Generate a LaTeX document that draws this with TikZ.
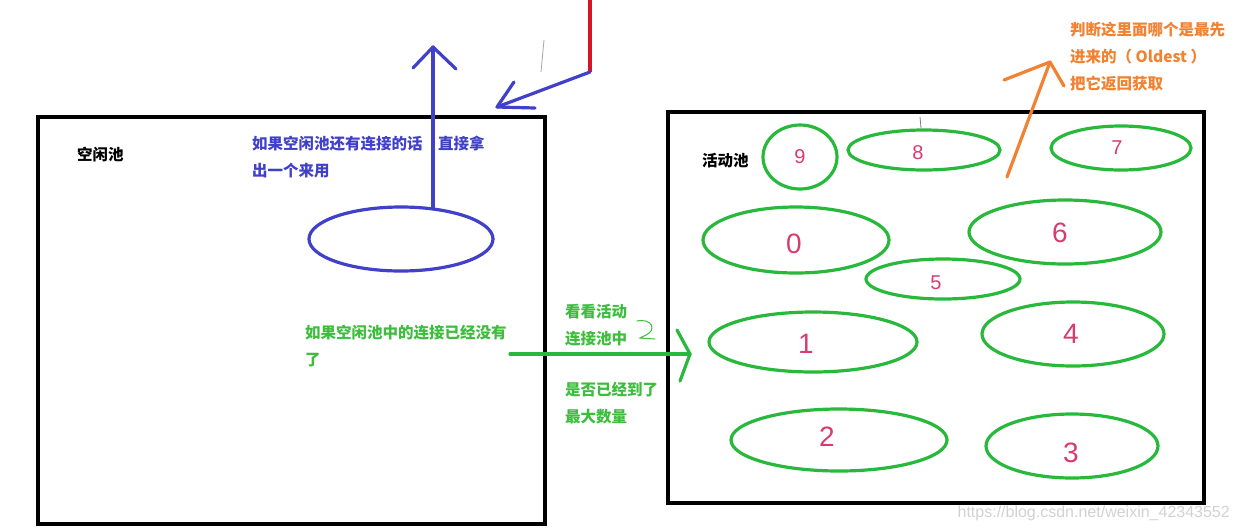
\documentclass[tikz,border=0pt]{standalone}
\usepackage{fontspec}
\setmainfont{Liberation Sans}
\newfontfamily\cjk{Noto Sans CJK SC}
\definecolor{penblue}{RGB}{64,64,200}
\definecolor{pengreen}{RGB}{40,185,60}
\definecolor{txtgreen}{RGB}{60,190,60}
\definecolor{penorange}{RGB}{240,130,50}
\definecolor{penred}{RGB}{215,20,40}
\definecolor{digit}{RGB}{215,60,110}
\tikzset{
  poolbox/.style={draw=black, line width=3.2pt},
  conn/.style={draw=pengreen, line width=3.2pt, ellipse},
  lbl/.style={anchor=west, inner sep=0pt, font=\cjk\bfseries\fontsize{15.5}{27}\selectfont, align=left},
  dig/.style={text=digit, font=\fontsize{28}{28}\selectfont, inner sep=0pt},
  sdig/.style={text=digit, font=\fontsize{20}{20}\selectfont, inner sep=0pt},
  pen/.style={line width=3.2pt, line cap=round, line join=round},
}
\usetikzlibrary{shapes.geometric}
\begin{document}
\begin{tikzpicture}[x=1pt,y=-1pt]
\useasboundingbox (0,0) rectangle (1239,531);
\fill[white] (0,0) rectangle (1239,531);
% boxes
\draw[poolbox] (38,117) rectangle (545,524);
\draw[poolbox] (668,112) rectangle (1204,503);
\node[lbl, text=black] (idle) at (77,155) {空闲池};
\node[lbl, text=black] (active) at (702,161) {活动池};
% idle connection
\node[draw=penblue, line width=3.2pt, ellipse, minimum width=184pt, minimum height=64pt] (ic) at (401,239) {};
\coordinate (upTop) at (433,47);
\draw[pen, penblue] (433,208) -- (upTop);
\draw[pen, penblue] (413,68) -- (upTop) -- (456,69);
\node[lbl, text=penblue] (bluetxt) at (252,157) {如果空闲池还有连接的话\hspace{1em}直接拿\\出一个来用};
% red line and blue arrow 1
\coordinate (redTop) at (590,0);
\coordinate (redBot) at (590,72);
\coordinate (boxTip) at (497,107);
\draw[line width=4pt, penred] (redTop) -- (redBot);
\draw[pen, penblue] (redBot) -- (boxTip);
\draw[pen, penblue] (514,82) -- (boxTip) -- (535,108);
\draw[line width=0.8pt, gray!70] (544,40) -- (541,72);
% green arrow
\coordinate (gStart) at (510,354);
\coordinate (gTip) at (690,354);
\draw[pen, pengreen] (gStart) -- (gTip);
\draw[pen, pengreen] (677,330) -- (gTip) -- (680,381);
\node[lbl, text=txtgreen] (g1) at (305,346) {如果空闲池中的连接已经没有\\了};
\node[lbl, text=txtgreen] (g2) at (565,325) {看看活动\\连接池中};
\node[lbl, text=txtgreen] (g3) at (565,403) {是否已经到了\\最大数量};
\draw[line width=1pt, txtgreen, line cap=round] (637,321) .. controls (652,318) and (657,330) .. (646,335) -- (640,338) -- (655,339);
% orange arrow
\coordinate (oTip) at (1050,62);
\draw[pen, penorange] (1007,177) -- (oTip);
\draw[pen, penorange] (1004,80) -- (oTip) -- (1064,86);
\node[lbl, text=penorange] (otxt) at (1070,57) {判断这里面哪个是最先\\进来的（ {\bfseries Oldest} ）\\把它返回获取};
% active connections
\node[conn, minimum width=74pt, minimum height=64pt] (c9) at (800,157) {};
\node[conn, minimum width=152pt, minimum height=40pt] (c8) at (924,150) {};
\node[conn, minimum width=140pt, minimum height=44pt] (c7) at (1121,148) {};
\node[conn, minimum width=186pt, minimum height=66pt] (c0) at (796,240) {};
\node[conn, minimum width=192pt, minimum height=64pt] (c6) at (1065,232) {};
\node[conn, minimum width=154pt, minimum height=40pt] (c5) at (943,279) {};
\node[conn, minimum width=208pt, minimum height=60pt] (c1) at (813,342) {};
\node[conn, minimum width=182pt, minimum height=64pt] (c4) at (1073,334) {};
\node[conn, minimum width=216pt, minimum height=62pt] (c2) at (839,440) {};
\node[conn, minimum width=172pt, minimum height=64pt] (c3) at (1072,446) {};
\draw[line width=0.8pt, gray] (920,117) -- (921,128);
\node[sdig] at (c9) {9};
\node[sdig] at (918,153) {8};
\node[sdig] at (1117,148) {7};
\node[dig] at (794,244) {0};
\node[dig] at (1060,233) {6};
\node[sdig] at (936,283) {5};
\node[dig] at (806,344) {1};
\node[dig] at (1071,334) {4};
\node[dig] at (827,437) {2};
\node[dig] at (1071,453) {3};
% watermark
\node[anchor=east, inner sep=0pt, text=gray!35, font=\fontsize{16}{16}\selectfont] (wm) at (1230,513) {https://blog.csdn.net/weixin\_42343552};
\end{tikzpicture}
\end{document}
